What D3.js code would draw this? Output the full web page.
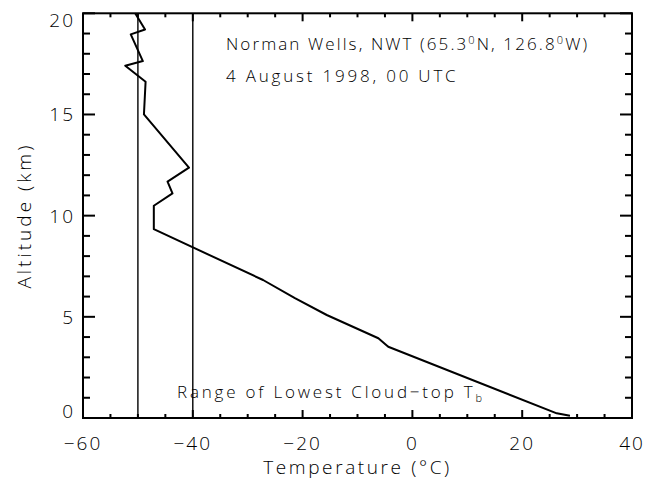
<!DOCTYPE html>
<html>
<head>
<meta charset="UTF-8">
<script src="https://d3js.org/d3.v7.min.js"></script>
<style>
  body { margin: 0; background: #fff; }
  svg text { font-family: "Open Sans", "DejaVu Sans", sans-serif; font-weight: 300; fill: #000; }
</style>
</head>
<body>
<svg id="chart" width="658" height="483"></svg>
<script>
// sounding profile
const temps = [-50.5, -48.7, -51.3, -49.1, -52.3, -48.6, -48.9, -40.7, -44.6, -43.7, -47.1, -47.1,
               -27.2, -21.4, -15.6, -6.2, -4.4, 26.3, 28.7];
const alts  = [20.0, 19.2, 18.96, 17.64, 17.41, 16.62, 15.0, 12.37, 11.68, 11.1, 10.49, 9.33,
               6.82, 5.92, 5.09, 3.94, 3.52, 0.23, 0.11];
const refLines = [-50, -40];
const xTicks = [-60, -40, -20, 0, 20, 40];
const yTicks = [0, 5, 10, 15, 20];

const width = 658, height = 483;
const margin = { top: 13.3, right: 26, bottom: 65, left: 83 };
const svg = d3.select("#chart");

const x = d3.scaleLinear().domain([-60, 40]).range([margin.left, width - margin.right]);
const y = d3.scaleLinear().domain([0, 20]).range([height - margin.bottom, margin.top]);
const x0 = margin.left, x1 = width - margin.right, y0 = height - margin.bottom, y1 = margin.top;

// reference lines
svg.selectAll(".ref").data(refLines).enter().append("line")
    .attr("x1", d => x(d)).attr("x2", d => x(d))
    .attr("y1", y0).attr("y2", y1)
    .attr("stroke", "#000").attr("stroke-width", 1.4);

// profile
const pts = temps.map((t, i) => ({ t, h: alts[i] }));
svg.append("path").datum(pts)
    .attr("fill", "none").attr("stroke", "#000").attr("stroke-width", 2)
    .attr("stroke-linejoin", "round")
    .attr("d", d3.line().x(d => x(d.t)).y(d => y(d.h)));

// ticks
const xMinor = d3.range(-60, 41, 5);
const yMinor = d3.range(0, 21, 1);
const tk = svg.append("g").attr("stroke", "#000").attr("stroke-width", 2);
xMinor.forEach(v => {
    const len = v % 20 === 0 ? 8 : 4;
    tk.append("line").attr("x1", x(v)).attr("x2", x(v)).attr("y1", y0).attr("y2", y0 - len);
    tk.append("line").attr("x1", x(v)).attr("x2", x(v)).attr("y1", y1).attr("y2", y1 + len);
});
yMinor.forEach(v => {
    const len = v % 5 === 0 ? 12 : 7;
    tk.append("line").attr("x1", x0).attr("x2", x0 + len).attr("y1", y(v)).attr("y2", y(v));
    tk.append("line").attr("x1", x1).attr("x2", x1 - len).attr("y1", y(v)).attr("y2", y(v));
});

// frame
svg.append("rect").attr("x", x0).attr("y", y1).attr("width", x1 - x0).attr("height", y0 - y1)
    .attr("fill", "none").attr("stroke", "#000").attr("stroke-width", 2);

// tick labels
svg.selectAll(".xl").data(xTicks).enter().append("text")
    .attr("x", d => x(d)).attr("y", 450)
    .attr("text-anchor", "middle").style("font-size", "19px").style("letter-spacing", "2px")
    .text(d => d < 0 ? "\u2212" + Math.abs(d) : d);

svg.selectAll(".yl").data(yTicks).enter().append("text")
    .attr("x", 75).attr("y", d => y(d))
    .attr("dy", d => d === 0 ? "0" : d === 20 ? "14" : "7")
    .attr("text-anchor", "end").style("font-size", "19px").style("letter-spacing", "2px")
    .text(d => d);

// axis titles
svg.append("text").attr("x", (x0 + x1) / 2).attr("y", 474)
    .attr("text-anchor", "middle").style("font-size", "19px").style("letter-spacing", "2.6px")
    .text("Temperature (\u00b0C)");
svg.append("text").attr("transform", `translate(31,${(y0 + y1) / 2}) rotate(-90)`)
    .attr("text-anchor", "middle").style("font-size", "19px").style("letter-spacing", "3px")
    .text("Altitude (km)");

// annotations
const t1 = svg.append("text").attr("x", 226).attr("y", 50).style("font-size", "17px").style("letter-spacing", "2.1px");
t1.append("tspan").text("Norman Wells, NWT (65.3");
t1.append("tspan").attr("dy", -6).style("font-size", "11px").text("0");
t1.append("tspan").attr("dy", 6).text("N, 126.8");
t1.append("tspan").attr("dy", -6).style("font-size", "11px").text("0");
t1.append("tspan").attr("dy", 6).text("W)");

svg.append("text").attr("x", 226).attr("y", 82).style("font-size", "17px").style("letter-spacing", "2.8px")
    .text("4 August 1998, 00 UTC");

const t3 = svg.append("text").attr("x", 177).attr("y", 398).style("font-size", "17px").style("letter-spacing", "2.8px");
t3.append("tspan").text("Range of Lowest Cloud\u2212top T");
t3.append("tspan").attr("dy", 4).style("font-size", "11px").text("b");
</script>
</body>
</html>
